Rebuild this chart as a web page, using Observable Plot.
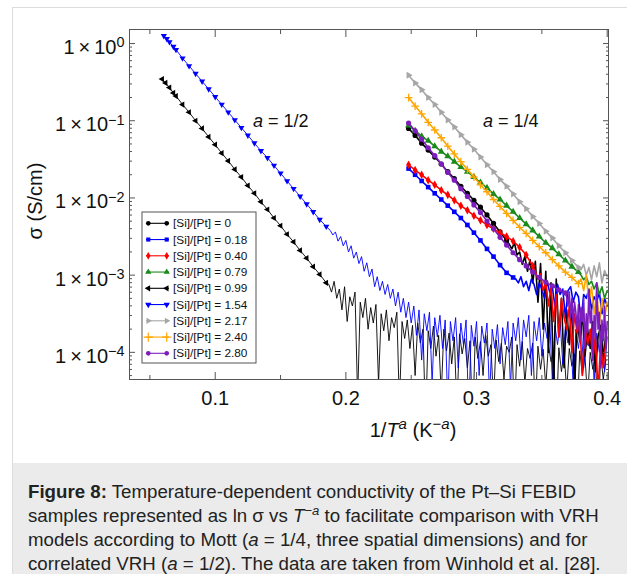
<!DOCTYPE html>
<html><head><meta charset="utf-8">
<script src="https://cdn.jsdelivr.net/npm/d3@7"></script>
<script src="https://cdn.jsdelivr.net/npm/@observablehq/plot@0.6"></script>
<style>
body{margin:0;background:#fff;font-family:"Liberation Sans",Arial,sans-serif;}
#fig{position:absolute;left:12px;top:7px;width:640px;height:456px;border-top:1px solid #dcdcdc;border-left:1px solid #dcdcdc;}
#cap{position:absolute;left:12px;top:463px;width:640px;height:120px;background:#ebebeb;border-left:1px solid #dcdcdc;}
#cap p{margin:0;position:absolute;left:15px;top:17px;white-space:nowrap;font-size:18.7px;line-height:24px;color:#222;}
#cap sup{font-size:70%;line-height:0;vertical-align:baseline;position:relative;top:-0.5em;}
#chart{position:absolute;left:0;top:0;}
</style></head><body>
<div id="fig"></div>
<div id="cap"><p><b>Figure 8:</b> Temperature-dependent conductivity of the Pt–Si FEBID<br>samples represented as ln σ vs <i>T</i><sup>−<i>a</i></sup> to facilitate comparison with VRH<br>models according to Mott (<i>a</i> = 1/4, three spatial dimensions) and for<br>correlated VRH (<i>a</i> = 1/2). The data are taken from Winhold et al. [28].</p></div>
<div id="chart"></div>
<script>
// ---- series labels & styles ----
const names = ["[Si]/[Pt] = 0","[Si]/[Pt] = 0.18","[Si]/[Pt] = 0.40","[Si]/[Pt] = 0.79","[Si]/[Pt] = 0.99","[Si]/[Pt] = 1.54","[Si]/[Pt] = 2.17","[Si]/[Pt] = 2.40","[Si]/[Pt] = 2.80"];
const colors = ["#000000","#0000ff","#ff0000","#1a8a1a","#000000","#0000ff","#a6a6a6","#ffa500","#7d1dbd"];
const symbols = ["circle","square","diamond","triangle","triangle","triangle","triangle","plus","circle"];
const rotations = [0,0,0,0,-90,180,90,0,0];

// ---- data: [1/T^a, log10 sigma] ; "smooth" parts carry markers, "noise" parts are line only ----
const si0 = [[0.248,-1.10],[0.253,-1.19],[0.258,-1.29],[0.263,-1.38],[0.268,-1.47],[0.273,-1.56],[0.278,-1.66],[0.283,-1.75],[0.288,-1.85],[0.293,-1.94],[0.298,-2.03],[0.303,-2.12],[0.308,-2.22],[0.313,-2.33],[0.318,-2.44],[0.323,-2.55]];
const si0Noise = [[0.325,-2.60],[0.327,-2.66],[0.329,-2.58],[0.331,-2.74],[0.333,-2.70],[0.335,-2.86],[0.337,-2.76],[0.339,-2.95],[0.341,-2.80],[0.343,-3.10],[0.345,-2.82],[0.347,-3.35],[0.349,-2.85],[0.351,-3.70],[0.353,-2.95],[0.355,-4.00],[0.357,-3.10],[0.359,-4.45],[0.361,-3.05],[0.363,-3.80],[0.365,-3.30],[0.367,-4.20],[0.369,-3.45],[0.371,-3.90],[0.373,-3.35],[0.375,-4.50],[0.377,-3.60],[0.379,-3.85],[0.381,-3.50],[0.383,-4.05],[0.385,-3.70],[0.387,-3.95],[0.389,-3.60],[0.391,-4.25],[0.393,-3.80],[0.395,-3.65],[0.397,-4.10],[0.399,-3.75]];

const si018 = [[0.248,-1.62],[0.253,-1.70],[0.258,-1.78],[0.263,-1.86],[0.268,-1.94],[0.273,-2.02],[0.278,-2.10],[0.283,-2.18],[0.288,-2.26],[0.293,-2.35],[0.298,-2.45],[0.303,-2.55],[0.308,-2.66],[0.313,-2.76],[0.318,-2.87],[0.323,-2.97],[0.328,-3.03]];
const si018Noise = [[0.330,-3.05],[0.332,-3.10],[0.334,-3.02],[0.336,-3.15],[0.338,-3.08],[0.340,-3.20],[0.342,-3.05],[0.344,-3.12],[0.346,-3.25],[0.348,-3.10],[0.350,-3.18],[0.352,-3.30],[0.354,-3.08],[0.356,-3.22],[0.358,-3.15],[0.360,-3.40],[0.362,-3.12],[0.364,-3.25],[0.366,-3.18],[0.368,-3.55],[0.370,-3.20],[0.372,-3.15],[0.374,-3.35],[0.376,-3.22],[0.378,-3.28],[0.380,-3.60],[0.382,-3.25],[0.384,-3.30],[0.386,-3.18],[0.388,-3.45],[0.390,-3.28],[0.392,-3.35],[0.394,-3.22],[0.396,-3.50],[0.398,-3.30],[0.400,-3.40]];

const si040 = [[0.248,-1.57],[0.253,-1.64],[0.258,-1.70],[0.263,-1.77],[0.268,-1.83],[0.273,-1.90],[0.278,-1.96],[0.283,-2.03],[0.288,-2.10],[0.293,-2.16],[0.298,-2.23],[0.303,-2.29],[0.308,-2.35],[0.313,-2.40],[0.318,-2.45],[0.323,-2.50],[0.328,-2.56],[0.333,-2.64],[0.338,-2.74],[0.343,-2.88]];
const si040Noise = [[0.345,-2.95],[0.347,-3.05],[0.349,-2.98],[0.351,-3.20],[0.353,-3.10],[0.355,-3.40],[0.357,-3.15],[0.359,-3.60],[0.361,-3.25],[0.363,-3.80],[0.365,-3.30],[0.367,-3.55],[0.369,-3.70],[0.371,-3.40],[0.373,-4.00],[0.375,-3.50],[0.377,-3.75],[0.379,-3.60],[0.381,-4.30],[0.383,-3.65],[0.385,-3.90],[0.387,-3.70],[0.389,-4.10],[0.391,-3.80],[0.393,-4.50],[0.395,-3.90],[0.397,-4.20],[0.399,-3.85]];

const si079 = [[0.248,-1.06],[0.253,-1.13],[0.258,-1.20],[0.263,-1.26],[0.268,-1.33],[0.273,-1.40],[0.278,-1.46],[0.283,-1.53],[0.288,-1.60],[0.293,-1.66],[0.298,-1.73],[0.303,-1.80],[0.308,-1.87],[0.313,-1.95],[0.318,-2.02],[0.323,-2.10],[0.328,-2.18],[0.333,-2.26],[0.338,-2.34],[0.343,-2.42],[0.348,-2.50],[0.353,-2.58],[0.358,-2.65],[0.363,-2.73],[0.368,-2.81],[0.373,-2.89],[0.378,-2.96]];
const si079Noise = [[0.380,-3.00],[0.382,-3.06],[0.384,-3.02],[0.386,-3.12],[0.388,-3.08],[0.390,-3.18],[0.392,-3.10],[0.394,-3.25],[0.396,-3.15],[0.398,-3.30],[0.400,-3.20]];

const si099 = [[0.0594,-0.46],[0.062,-0.51],[0.065,-0.57],[0.068,-0.64],[0.070,-0.68],[0.075,-0.79],[0.080,-0.89],[0.085,-1.00],[0.090,-1.10],[0.095,-1.21],[0.100,-1.31],[0.105,-1.42],[0.110,-1.52],[0.115,-1.63],[0.120,-1.73],[0.125,-1.84],[0.130,-1.94],[0.135,-2.05],[0.140,-2.15],[0.145,-2.26],[0.150,-2.36],[0.155,-2.47],[0.160,-2.57],[0.165,-2.68],[0.170,-2.78],[0.175,-2.89],[0.180,-2.99],[0.185,-3.10]];
const si099Noise = [[0.187,-3.12],[0.189,-3.22],[0.191,-3.08],[0.193,-3.30],[0.195,-3.18],[0.197,-3.45],[0.199,-3.15],[0.201,-3.60],[0.203,-3.28],[0.205,-3.40],[0.207,-3.22],[0.209,-4.60],[0.211,-3.35],[0.213,-3.55],[0.215,-3.30],[0.217,-3.70],[0.219,-3.42],[0.221,-3.62],[0.223,-3.38],[0.225,-4.40],[0.227,-3.50],[0.229,-3.72],[0.231,-3.45],[0.233,-3.85],[0.235,-3.55],[0.237,-3.68],[0.239,-3.48],[0.241,-4.70],[0.243,-3.60],[0.245,-3.82],[0.247,-3.58],[0.249,-3.95],[0.251,-3.65],[0.253,-4.30],[0.255,-3.62],[0.257,-3.88],[0.259,-3.70],[0.261,-4.90],[0.263,-3.72],[0.265,-3.95],[0.267,-3.66],[0.269,-4.05],[0.271,-3.78],[0.273,-4.55],[0.275,-3.70],[0.277,-3.98],[0.279,-3.75],[0.281,-4.15],[0.283,-3.80],[0.285,-4.75],[0.287,-3.76],[0.289,-4.02],[0.291,-3.82],[0.293,-4.20],[0.295,-3.85],[0.297,-4.95],[0.299,-3.80],[0.301,-4.08],[0.303,-3.86],[0.305,-4.30],[0.307,-3.78],[0.309,-4.05],[0.311,-3.90],[0.313,-4.65],[0.315,-3.84],[0.317,-4.12],[0.319,-3.88],[0.321,-4.35],[0.323,-3.92],[0.325,-4.00],[0.327,-3.80],[0.329,-4.85],[0.331,-3.90],[0.333,-4.18],[0.335,-3.86],[0.337,-4.40],[0.339,-3.95],[0.341,-4.08],[0.343,-3.88],[0.345,-4.75],[0.347,-3.92],[0.349,-4.22],[0.351,-3.96],[0.353,-4.45],[0.355,-3.90],[0.357,-4.12],[0.359,-3.98],[0.361,-4.90],[0.363,-3.94],[0.365,-4.25],[0.367,-4.00],[0.369,-4.50],[0.371,-3.95],[0.373,-4.18],[0.375,-4.02],[0.377,-4.85],[0.379,-3.98],[0.381,-4.30],[0.383,-4.05],[0.385,-4.60],[0.387,-4.00],[0.389,-4.22],[0.391,-4.06],[0.393,-4.95],[0.395,-4.02],[0.397,-4.35],[0.399,-4.10]];

const si154 = [[0.0607,0.10],[0.063,0.06],[0.065,0.02],[0.068,-0.04],[0.070,-0.08],[0.075,-0.19],[0.080,-0.29],[0.085,-0.39],[0.090,-0.49],[0.095,-0.59],[0.100,-0.69],[0.105,-0.79],[0.110,-0.89],[0.115,-0.99],[0.120,-1.09],[0.125,-1.19],[0.130,-1.29],[0.135,-1.39],[0.140,-1.48],[0.145,-1.58],[0.150,-1.68],[0.155,-1.78],[0.160,-1.88],[0.165,-1.98],[0.170,-2.08],[0.175,-2.18],[0.180,-2.28],[0.185,-2.37]];
const si154Noise = [[0.188,-2.42],[0.190,-2.48],[0.192,-2.44],[0.194,-2.56],[0.196,-2.50],[0.198,-2.62],[0.200,-2.55],[0.202,-2.70],[0.204,-2.62],[0.206,-2.78],[0.208,-2.70],[0.210,-2.85],[0.212,-2.76],[0.214,-2.95],[0.216,-2.84],[0.218,-3.02],[0.220,-2.92],[0.222,-3.15],[0.224,-3.02],[0.226,-3.20],[0.228,-3.08],[0.230,-3.25],[0.232,-3.12],[0.234,-3.30],[0.236,-3.18],[0.238,-3.40],[0.240,-3.22],[0.242,-3.48],[0.244,-3.30],[0.246,-3.55],[0.248,-3.35],[0.250,-3.62],[0.252,-3.40],[0.254,-3.78],[0.256,-3.45],[0.258,-4.10],[0.260,-3.50],[0.262,-3.72],[0.264,-3.48],[0.266,-4.40],[0.268,-3.55],[0.270,-3.80],[0.272,-3.52],[0.274,-3.95],[0.276,-3.58],[0.278,-4.70],[0.280,-3.60],[0.282,-3.85],[0.284,-3.55],[0.286,-4.20],[0.288,-3.62],[0.290,-3.90],[0.292,-3.58],[0.294,-4.85],[0.296,-3.65],[0.298,-3.92],[0.300,-3.60],[0.302,-4.30],[0.304,-3.66],[0.306,-3.88],[0.308,-3.62],[0.310,-4.60],[0.312,-3.70],[0.314,-3.95],[0.316,-3.64],[0.318,-4.15],[0.320,-3.68],[0.322,-3.90],[0.324,-3.60],[0.326,-4.45],[0.328,-3.62],[0.330,-3.85],[0.332,-3.55],[0.334,-4.10],[0.336,-3.58],[0.338,-3.80],[0.340,-3.52],[0.342,-4.30],[0.344,-3.60],[0.346,-3.85],[0.348,-3.55],[0.350,-4.05],[0.352,-3.62],[0.354,-3.82],[0.356,-3.58],[0.358,-4.35],[0.360,-3.65],[0.362,-3.90],[0.364,-3.60],[0.366,-4.15],[0.368,-3.66],[0.370,-3.88],[0.372,-3.62],[0.374,-4.50],[0.376,-3.70],[0.378,-3.95],[0.380,-3.65],[0.382,-4.20],[0.384,-3.72],[0.386,-3.92],[0.388,-3.68],[0.390,-4.40],[0.392,-3.75],[0.394,-4.00],[0.396,-3.70],[0.398,-4.25],[0.400,-3.80]];

const si217 = [[0.248,-0.41],[0.253,-0.51],[0.258,-0.60],[0.263,-0.70],[0.268,-0.79],[0.273,-0.89],[0.278,-0.99],[0.283,-1.08],[0.288,-1.18],[0.293,-1.28],[0.298,-1.37],[0.303,-1.47],[0.308,-1.57],[0.313,-1.66],[0.318,-1.76],[0.323,-1.85],[0.328,-1.95],[0.333,-2.05],[0.338,-2.14],[0.343,-2.24],[0.348,-2.33],[0.353,-2.43],[0.358,-2.52],[0.363,-2.62],[0.368,-2.71],[0.373,-2.81],[0.378,-2.90]];
const si217Noise = [[0.380,-2.93],[0.382,-2.86],[0.384,-3.00],[0.386,-2.90],[0.388,-3.06],[0.390,-2.88],[0.392,-3.02],[0.394,-2.84],[0.396,-3.10],[0.398,-2.94],[0.400,-3.02]];

const si240 = [[0.248,-0.70],[0.253,-0.81],[0.258,-0.91],[0.263,-1.02],[0.268,-1.12],[0.273,-1.22],[0.278,-1.33],[0.283,-1.43],[0.288,-1.53],[0.293,-1.63],[0.298,-1.73],[0.303,-1.83],[0.308,-1.92],[0.313,-2.02],[0.318,-2.11],[0.323,-2.20],[0.328,-2.29],[0.333,-2.38],[0.338,-2.46],[0.343,-2.55],[0.348,-2.63],[0.353,-2.71],[0.358,-2.80],[0.363,-2.88],[0.368,-2.96],[0.373,-3.03],[0.378,-3.11]];
const si240Noise = [[0.380,-3.05],[0.382,-3.20],[0.384,-3.00],[0.386,-3.35],[0.388,-3.15],[0.390,-3.50],[0.392,-3.22],[0.394,-3.65],[0.396,-3.30],[0.398,-3.55],[0.400,-3.35]];

const si280 = [[0.248,-1.03],[0.253,-1.13],[0.258,-1.24],[0.263,-1.35],[0.268,-1.45],[0.273,-1.56],[0.278,-1.67],[0.283,-1.77],[0.288,-1.88],[0.293,-1.98],[0.298,-2.09],[0.303,-2.19],[0.308,-2.30],[0.313,-2.40],[0.318,-2.51],[0.323,-2.61],[0.328,-2.71],[0.333,-2.80],[0.338,-2.88],[0.343,-2.96],[0.348,-3.03],[0.353,-3.09],[0.358,-3.14],[0.363,-3.19],[0.368,-3.23]];
const si280Noise = [[0.369,-3.28],[0.370,-3.40],[0.371,-3.22],[0.372,-3.55],[0.373,-3.30],[0.374,-3.65],[0.375,-3.35],[0.376,-3.48],[0.377,-3.70],[0.378,-3.38],[0.379,-3.85],[0.380,-3.42],[0.381,-3.60],[0.382,-3.30],[0.383,-3.95],[0.384,-3.50],[0.385,-3.75],[0.386,-3.20],[0.387,-3.62],[0.388,-3.45],[0.389,-4.10],[0.390,-3.52],[0.391,-3.80],[0.392,-3.10],[0.393,-3.70],[0.394,-3.48],[0.395,-4.20],[0.396,-3.58],[0.397,-3.85],[0.398,-3.40],[0.399,-3.95],[0.400,-3.60]];

// ---- axis ticks ----
const xMajorTicks = [0.1,0.2,0.3,0.4];
const xMinorTicks = [0.05,0.15,0.25,0.35];
const yMajorTicks = [1e-4,1e-3,1e-2,1e-1,1];
const yMinorMantissas = [2,3,4,5,6,7,8,9];
const yTickLabels = ["1\u2009×\u200910|−4","1\u2009×\u200910|−3","1\u2009×\u200910|−2","1\u2009×\u200910|−1","1\u2009×\u200910|0"];

const smooth = [si0,si018,si040,si079,si099,si154,si217,si240,si280];
const noise = [si0Noise,si018Noise,si040Noise,si079Noise,si099Noise,si154Noise,si217Noise,si240Noise,si280Noise];
const halfSeries = [4,5];

const lineRows = [], dotRows = [];
names.forEach((name,i)=>{
  smooth[i].forEach(([x,l])=>{const r={i,name,x,sigma:Math.pow(10,l)}; lineRows.push(r); dotRows.push(r);});
  noise[i].forEach(([x,l])=>lineRows.push({i,name,x,sigma:Math.pow(10,l)}));
});

const yMinorTicks = [];
[1e-5,1e-4,1e-3,1e-2,1e-1,1].forEach(dec=>yMinorMantissas.forEach(m=>{const v=m*dec; if(v>4.45e-5 && v<1.52) yMinorTicks.push(v);}));

const drawOrder = [4,5,0,1,2,3,6,7,8];
const seriesMarks = drawOrder.flatMap(i=>{
  const isStroke = symbols[i]==="plus";
  const half = halfSeries.includes(i);
  return [
    Plot.line(lineRows.filter(d=>d.i===i),{x:"x",y:"sigma",stroke:colors[i],strokeWidth:half?0.9:1.6,clip:true}),
    Plot.dot(dotRows.filter(d=>d.i===i),{x:"x",y:"sigma",symbol:symbols[i],r:half?2.3:2.6,rotate:rotations[i],
      fill:isStroke?"none":colors[i],stroke:isStroke?colors[i]:"none",strokeWidth:1.3,clip:true})
  ];
});

const tickColor = "#555";
const chart = Plot.plot({
  width:627, height:463,
  marginLeft:129, marginRight:19, marginTop:29, marginBottom:84,
  style:{fontFamily:"'Liberation Sans', Arial, sans-serif", background:"transparent", color:"#111"},
  x:{domain:[0.0344,0.401]},
  y:{type:"log", domain:[4.45e-5,1.52]},
  marks:[
    ...seriesMarks,
    Plot.frame({stroke:tickColor}),
    Plot.axisX({ticks:xMajorTicks, tickSize:-7, fill:"none", stroke:tickColor}),
    Plot.axisX({ticks:xMinorTicks, tickSize:-4, fill:"none", stroke:tickColor}),
    Plot.axisX({anchor:"top", ticks:xMajorTicks, tickSize:-7, fill:"none", stroke:tickColor}),
    Plot.axisX({anchor:"top", ticks:xMinorTicks, tickSize:-4, fill:"none", stroke:tickColor}),
    Plot.axisX({ticks:xMajorTicks, tickSize:0, tickPadding:11, fontSize:20, label:null, fill:"#111", tickFormat:d=>String(d)}),
    Plot.axisY({ticks:yMajorTicks, tickSize:-6, fill:"none", stroke:tickColor}),
    Plot.axisY({ticks:yMinorTicks, tickSize:-3, fill:"none", stroke:tickColor}),
    Plot.axisY({anchor:"right", ticks:yMajorTicks, tickSize:-6, fill:"none", stroke:tickColor}),
    Plot.axisY({anchor:"right", ticks:yMinorTicks, tickSize:-3, fill:"none", stroke:tickColor}),
    Plot.axisY({ticks:yMajorTicks, tickSize:0, tickPadding:5, dy:4, fontSize:20, label:null, fill:"#111",
      tickFormat:d=>yTickLabels[yMajorTicks.indexOf(d)]})
  ]
});
document.getElementById("chart").appendChild(chart);

const svg = d3.select(chart);
// superscripts on y tick labels
svg.selectAll('g[aria-label="y-axis tick label"] text').each(function(){
  const t = d3.select(this); const s = t.text(); if(!s.includes("|")) return;
  const [base,exp] = s.split("|");
  t.text(null);
  t.append("tspan").text(base);
  t.append("tspan").attr("dy","-0.45em").attr("font-size","72%").text(exp);
});

const xs = chart.scale("x"), ys = chart.scale("y");
const font = "'Liberation Sans', Arial, sans-serif";
// annotations
[[0.1293, Math.pow(10,-1.087), "1/2"],[0.3053, Math.pow(10,-1.087), "1/4"]].forEach(([x,y,t])=>{
  const tx = svg.append("text").attr("x",xs.apply(x)).attr("y",ys.apply(y)).attr("text-anchor","start")
    .attr("font-family",font).attr("font-size",18).attr("fill","#111");
  tx.append("tspan").attr("font-style","italic").text("a");
  tx.append("tspan").text(" = "+t);
});
// x-axis label
const xl = svg.append("text").attr("x",413).attr("y",437).attr("text-anchor","middle").attr("font-family",font).attr("font-size",20).attr("fill","#111");
xl.append("tspan").text("1/");
xl.append("tspan").attr("font-style","italic").text("T");
xl.append("tspan").attr("font-style","italic").attr("font-size","75%").attr("dy","-0.55em").text("a");
xl.append("tspan").attr("dy","0.41em").text(" (K");
xl.append("tspan").attr("font-size","75%").attr("dy","-0.55em").text("−");
xl.append("tspan").attr("font-size","75%").attr("font-style","italic").text("a");
xl.append("tspan").attr("dy","0.41em").text(")");
// y-axis label
svg.append("text").attr("transform","translate(42,201) rotate(-90)").attr("text-anchor","middle")
  .attr("font-family",font).attr("font-size",20).attr("fill","#111").text("σ (S/cm)");

// legend
const lg = svg.append("g").attr("transform","translate(142,212)");
lg.append("rect").attr("width",114).attr("height",151).attr("fill","#fff").attr("stroke","#555");
const symMap = {circle:d3.symbolCircle,square:d3.symbolSquare,diamond:d3.symbolDiamond,triangle:d3.symbolTriangle,plus:d3.symbolPlus};
names.forEach((name,i)=>{
  const y = 11.3 + i*16.25;
  const row = lg.append("g").attr("transform",`translate(0,${y})`);
  row.append("line").attr("x1",4).attr("x2",27).attr("y1",0).attr("y2",0).attr("stroke",colors[i]).attr("stroke-width",1.1);
  [6.3,24.7].forEach(cx=>{
    const isStroke = symbols[i]==="plus";
    row.append("path").attr("d",d3.symbol(symMap[symbols[i]], isStroke?30:17)())
      .attr("transform",`translate(${cx},0) rotate(${rotations[i]})`)
      .attr("fill",isStroke?"none":colors[i]).attr("stroke",isStroke?colors[i]:"none").attr("stroke-width",1.2);
  });
  row.append("text").attr("x",31).attr("dy","0.35em").attr("text-anchor","start").attr("font-family",font)
    .attr("font-size",11.8).attr("fill","#111").text(name);
});
</script>
</body></html>
